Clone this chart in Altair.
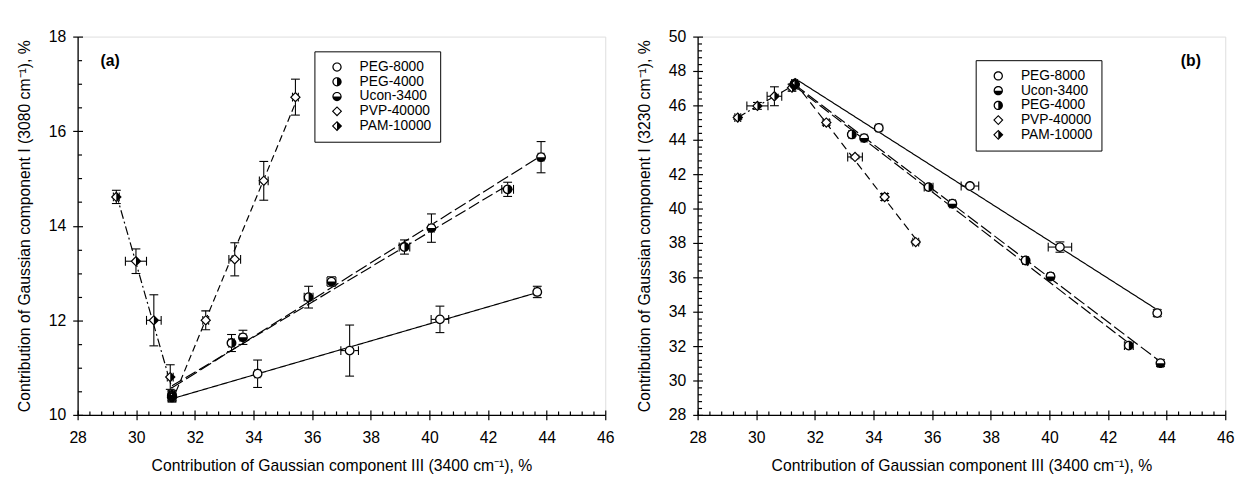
import altair as alt
import pandas as pd

FONT = "Liberation Sans"

SERIES_A = ["PEG-8000", "PEG-4000", "Ucon-3400", "PVP-40000", "PAM-10000"]
SERIES_B = ["PEG-8000", "Ucon-3400", "PEG-4000", "PVP-40000", "PAM-10000"]

# ---------------- panel (a) : component I (3080 cm-1) ----------------
A_X = {
    "PEG-8000": [31.22, 34.14, 37.28, 40.36, 43.68],
    "PEG-4000": [31.22, 33.25, 35.88, 39.15, 42.67],
    "Ucon-3400": [31.22, 33.64, 36.66, 40.07, 43.81],
    "PVP-40000": [31.22, 32.37, 33.36, 34.35, 35.43],
    "PAM-10000": [29.32, 29.99, 30.60, 31.16, 31.22],
}
A_Y = {
    "PEG-8000": [10.37, 10.87, 11.36, 12.02, 12.60],
    "PEG-4000": [10.40, 11.52, 12.49, 13.55, 14.77],
    "Ucon-3400": [10.42, 11.64, 12.82, 13.95, 15.45],
    "PVP-40000": [10.40, 12.00, 13.29, 14.95, 16.72],
    "PAM-10000": [14.61, 13.25, 12.00, 10.80, 10.37],
}
A_XERR = {
    "PEG-8000": [0.10, 0.10, 0.30, 0.30, 0.10],
    "PEG-4000": [0.10, 0.10, 0.15, 0.18, 0.20],
    "Ucon-3400": [0.10, 0.10, 0.15, 0.10, 0.10],
    "PVP-40000": [0.10, 0.10, 0.20, 0.15, 0.10],
    "PAM-10000": [0.10, 0.36, 0.25, 0.10, 0.10],
}
A_YERR = {
    "PEG-8000": [0.08, 0.29, 0.54, 0.28, 0.12],
    "PEG-4000": [0.10, 0.18, 0.23, 0.15, 0.15],
    "Ucon-3400": [0.10, 0.15, 0.10, 0.30, 0.33],
    "PVP-40000": [0.10, 0.20, 0.35, 0.41, 0.38],
    "PAM-10000": [0.14, 0.26, 0.54, 0.26, 0.10],
}

# ---------------- panel (b) : component I (3230 cm-1) ----------------
B_X = {
    "PEG-8000": [31.31, 34.18, 37.29, 40.36, 43.68],
    "Ucon-3400": [31.31, 33.68, 36.69, 40.04, 43.79],
    "PEG-4000": [31.31, 33.26, 35.88, 39.19, 42.71],
    "PVP-40000": [31.31, 32.39, 33.37, 34.38, 35.44],
    "PAM-10000": [29.37, 30.04, 30.62, 31.22, 31.31],
}
B_Y = {
    "PEG-8000": [47.26, 44.69, 41.31, 37.76, 33.92],
    "Ucon-3400": [47.20, 44.10, 40.28, 36.05, 31.01],
    "PEG-4000": [47.20, 44.31, 41.25, 36.98, 32.03],
    "PVP-40000": [47.20, 45.00, 43.00, 40.67, 38.05],
    "PAM-10000": [45.29, 45.97, 46.53, 47.03, 47.26],
}
B_XERR = {
    "PEG-8000": [0.10, 0.10, 0.30, 0.40, 0.10],
    "Ucon-3400": [0.10, 0.10, 0.10, 0.10, 0.10],
    "PEG-4000": [0.10, 0.10, 0.15, 0.10, 0.15],
    "PVP-40000": [0.10, 0.10, 0.25, 0.10, 0.10],
    "PAM-10000": [0.10, 0.36, 0.25, 0.10, 0.10],
}
B_YERR = {
    "PEG-8000": [0.10, 0.15, 0.10, 0.30, 0.20],
    "Ucon-3400": [0.10, 0.10, 0.15, 0.15, 0.20],
    "PEG-4000": [0.10, 0.10, 0.10, 0.10, 0.10],
    "PVP-40000": [0.10, 0.15, 0.10, 0.20, 0.10],
    "PAM-10000": [0.10, 0.20, 0.55, 0.20, 0.10],
}

X_MAJOR = [28, 30, 32, 34, 36, 38, 40, 42, 44, 46]
X_MINOR = [round(28 + 0.4 * i, 1) for i in range(46) if i % 5 != 0]
A_Y_MAJOR = [10, 12, 14, 16, 18]
A_Y_MINOR = [10.5, 11, 11.5, 12.5, 13, 13.5, 14.5, 15, 15.5, 16.5, 17, 17.5]
B_Y_MAJOR = [28, 30, 32, 34, 36, 38, 40, 42, 44, 46, 48, 50]
B_Y_MINOR = [round(28 + 0.4 * i, 1) for i in range(56) if i % 5 != 0]

X_TITLE = "Contribution of Gaussian component III (3400 cm⁻¹), %"
A_Y_TITLE = "Contribution of Gaussian component I (3080 cm⁻¹), %"
B_Y_TITLE = "Contribution of Gaussian component I (3230 cm⁻¹), %"

# ---------------- marker shapes (unit-square svg paths) ----------------
K = 0.5523


def circ(r, cw=True):
    k = K * r
    if cw:
        segs = [(k, -r, r, -k, r, 0), (r, k, k, r, 0, r), (-k, r, -r, k, -r, 0), (-r, -k, -k, -r, 0, -r)]
    else:
        segs = [(-k, -r, -r, -k, -r, 0), (-r, k, -k, r, 0, r), (k, r, r, k, r, 0), (r, -k, k, -r, 0, -r)]
    d = f"M0,{-r:.3f}"
    for a, b, c, e, g, h in segs:
        d += f" C{a:.3f},{b:.3f} {c:.3f},{e:.3f} {g:.3f},{h:.3f}"
    return d + " Z"


RI = 0.74
KI = K * RI
RING = circ(1.0, True) + " " + circ(RI, False)
RIGHT_HALF = f" M0,{-RI:.3f} C{KI:.3f},{-RI:.3f} {RI:.3f},{-KI:.3f} {RI:.3f},0 C{RI:.3f},{KI:.3f} {KI:.3f},{RI:.3f} 0,{RI:.3f} Z"
BOTTOM_HALF = f" M{RI:.3f},0 C{RI:.3f},{KI:.3f} {KI:.3f},{RI:.3f} 0,{RI:.3f} C{-KI:.3f},{RI:.3f} {-RI:.3f},{KI:.3f} {-RI:.3f},0 Z"
DO, DI = 1.1, 0.76
DIAMOND = f"M0,{-DO} L{DO},0 L0,{DO} L{-DO},0 Z M0,{-DI} L{-DI},0 L0,{DI} L{DI},0 Z"
DIAMOND_RIGHT = f" M0,{-DI} L{DI},0 L0,{DI} Z"

SHAPE = {
    "PEG-8000": RING,
    "PEG-4000": RING + RIGHT_HALF,
    "Ucon-3400": RING + BOTTOM_HALF,
    "PVP-40000": DIAMOND,
    "PAM-10000": DIAMOND + DIAMOND_RIGHT,
}
DASH_A = {
    "PEG-8000": [1, 0],
    "PEG-4000": [12, 4],
    "Ucon-3400": [13, 4],
    "PVP-40000": [7, 4],
    "PAM-10000": [9, 3, 2, 3],
}
DASH_B = {
    "PEG-8000": [1, 0],
    "Ucon-3400": [13, 4],
    "PEG-4000": [12, 4],
    "PVP-40000": [8, 5],
    "PAM-10000": [9, 3, 2, 3],
}

W, H = 537, 385


def frame(series, X, Y, XE, YE):
    rows = []
    for s in series:
        for x, y, xe, ye in zip(X[s], Y[s], XE[s], YE[s]):
            rows.append(dict(series=s, x=x, y=y, xe=xe, ye=ye,
                             xlo=x - xe, xhi=x + xe, ylo=y - ye, yhi=y + ye,
                             diam=1 if s in ("PVP-40000", "PAM-10000") else 0))
    return pd.DataFrame(rows)


AX_COMMON = dict(grid=False, tickColor="black", tickWidth=1.2)


def main_axis(orient, values, title, lp, tp):
    return alt.Axis(orient=orient, values=values, format="d", title=title,
                    domain=True, domainColor="black", domainWidth=1.3,
                    ticks=True, tickSize=5, labels=True,
                    labelFont=FONT, labelFontSize=16, labelColor="black",
                    labelFlush=False, labelOverlap=False, labelPadding=lp,
                    titleFont=FONT, titleFontSize=16, titleFontWeight="normal",
                    titleColor="black", titlePadding=tp, **AX_COMMON)


def inner_axis(orient, values, size):
    return alt.Axis(orient=orient, values=values, title=None, domain=False,
                    labels=False, ticks=True, tickSize=size, offset=-size, **AX_COMMON)


def make_legend(lx, ly):
    return alt.Legend(title=None, orient="none", legendX=lx, legendY=ly,
                      strokeColor="black", fillColor="white", padding=9, rowPadding=1,
                      labelFont=FONT, labelFontSize=14, labelColor="black",
                      labelOffset=16, symbolOffset=7, symbolSize=90,
                      symbolFillColor="black", symbolStrokeWidth=0,
                      labelExpr="datum.label + ' '")


def panel(df, series, dash, ydom, ymaj, ymin, ytitle, legend, label, labxy):
    xs = alt.Scale(domain=[28, 46], nice=False, zero=False)
    ys = alt.Scale(domain=ydom, nice=False, zero=False)
    base = alt.Chart(df)

    def X(f, axis=None):
        return alt.X(f, type="quantitative", scale=xs, axis=axis)

    def Y(f, axis=None):
        return alt.Y(f, type="quantitative", scale=ys, axis=axis)

    layers = []
    for i, s in enumerate(series):
        ln = base.transform_filter(alt.datum.series == s).transform_regression("x", "y").mark_line(
            color="black", strokeWidth=1.2, strokeDash=dash[s]
        )
        if i == 0:
            ln = ln.encode(x=X("x", main_axis("bottom", X_MAJOR, X_TITLE, 10, 13)),
                           y=Y("y", main_axis("left", ymaj, ytitle, 7, 16)))
        else:
            ln = ln.encode(x=X("x"), y=Y("y"))
        layers.append(ln)

    ybars = base.transform_filter("datum.ye > 0").mark_rule(color="black", strokeWidth=1.1).encode(
        x=X("x", inner_axis("bottom", X_MAJOR, 5)),
        y=Y("ylo", inner_axis("left", ymaj, 5)),
        y2="yhi",
    )
    ycaps = base.transform_filter("datum.ye > 0").transform_fold(["ylo", "yhi"], as_=["k", "yc"]).mark_tick(
        orient="horizontal", size=9, thickness=1.1, color="black", opacity=1
    ).encode(
        x=X("x", inner_axis("bottom", X_MINOR, 4)),
        y=Y("yc", inner_axis("left", ymin, 4)),
    )
    xbars = base.transform_filter("datum.xe > 0").mark_rule(color="black", strokeWidth=1.1).encode(
        x=X("xlo"), x2="xhi", y=Y("y"),
    )
    xcaps = base.transform_filter("datum.xe > 0").transform_fold(["xlo", "xhi"], as_=["k", "xc"]).mark_tick(
        orient="vertical", size=9, thickness=1.1, color="black", opacity=1
    ).encode(
        x=X("xc"), y=Y("y"),
    )
    back_c = base.transform_filter("datum.diam == 0").mark_point(
        filled=True, fill="white", opacity=1, size=95, strokeWidth=0, shape="circle"
    ).encode(x=X("x"), y=Y("y"))
    back_d = base.transform_filter("datum.diam == 1").mark_point(
        filled=True, fill="white", opacity=1, size=110, strokeWidth=0, shape="diamond"
    ).encode(x=X("x"), y=Y("y"))
    marks = base.mark_point(filled=True, color="black", opacity=1, size=100, strokeWidth=0).encode(
        x=X("x"), y=Y("y"),
        shape=alt.Shape("series:N", scale=alt.Scale(domain=series, range=[SHAPE[s] for s in series]),
                        legend=legend),
    )
    txt = alt.Chart(pd.DataFrame({"t": [label]})).mark_text(
        font=FONT, fontSize=16, fontWeight="bold", color="black", align="center", baseline="middle"
    ).encode(text="t:N", x=alt.value(labxy[0]), y=alt.value(labxy[1]))

    layers += [ybars, ycaps, xbars, xcaps, back_c, back_d, marks, txt]
    return alt.layer(*layers).properties(width=W, height=H).resolve_axis(x="independent", y="independent")


df_a = frame(SERIES_A, A_X, A_Y, A_XERR, A_YERR)
df_b = frame(SERIES_B, B_X, B_Y, B_XERR, B_YERR)

pa = panel(df_a, SERIES_A, DASH_A, [10, 18], A_Y_MAJOR, A_Y_MINOR, A_Y_TITLE, make_legend(241, 15), "(a)", (33, 25))
pb = panel(df_b, SERIES_B, DASH_B, [28, 50], B_Y_MAJOR, B_Y_MINOR, B_Y_TITLE, make_legend(283, 24), "(b)", (502, 25))

chart = alt.hconcat(pa, pb, spacing=21).resolve_scale(shape="independent").resolve_legend(
    shape="independent"
).properties(
    padding={"left": 16, "top": 24, "right": 5, "bottom": 0}
).configure_view(stroke="black", strokeWidth=1.3).configure(font=FONT)

chart.save("out.html", embed_options={"renderer": "svg", "actions": False})
